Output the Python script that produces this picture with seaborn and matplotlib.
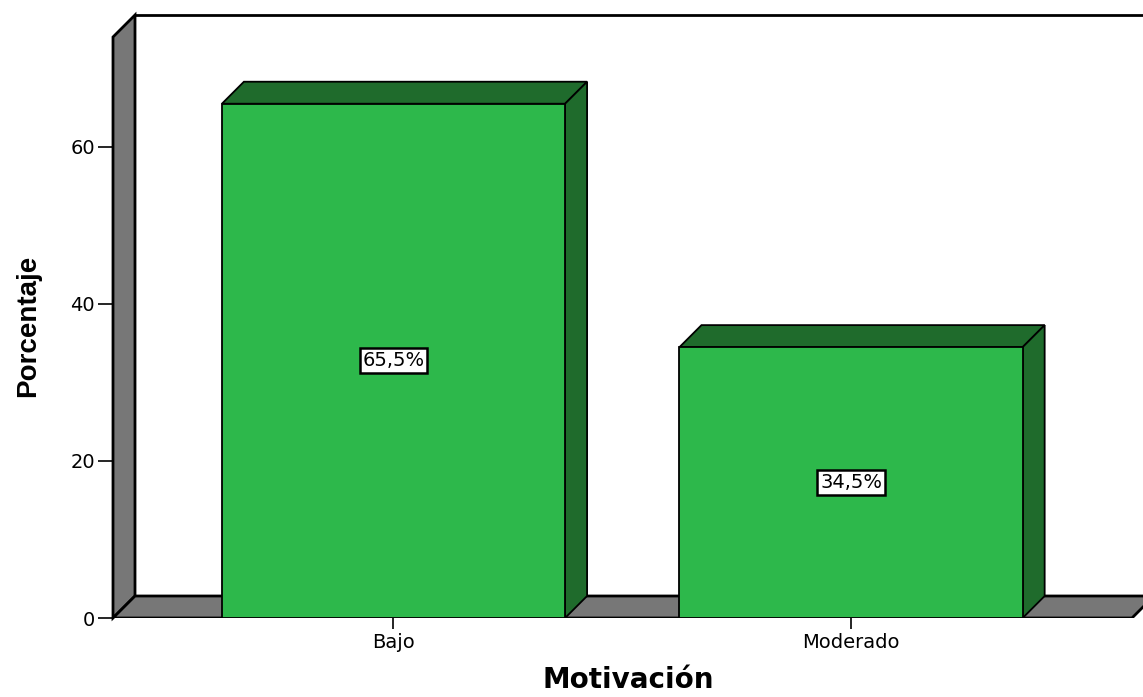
import numpy as np
import pandas as pd
import matplotlib
matplotlib.use("Agg")
import matplotlib.pyplot as plt
from matplotlib.patches import Polygon
import seaborn as sns

# datos
categorias = ["Bajo", "Moderado"]
porcentajes = [65.5, 34.5]
etiquetas = ["65,5%", "34,5%"]
yticks = [0, 20, 40, 60]

df = pd.DataFrame({"Motivación": categorias, "Porcentaje": porcentajes})

sns.set_style("white")
plt.rcParams["font.family"] = ["DejaVu Sans"]
plt.rcParams["text.color"] = "black"
plt.rcParams["axes.labelcolor"] = "black"
plt.rcParams["xtick.color"] = "black"
plt.rcParams["ytick.color"] = "black"

verde = "#2db84b"
verde_osc = "#1f6b2c"
gris = "#777777"

fig = plt.figure(figsize=(11.43, 6.97), dpi=100)
ax = fig.add_axes([113 / 1143, 79 / 697, 1030 / 1143, 603 / 697])

sns.barplot(data=df, x="Motivación", y="Porcentaje", color=verde, width=0.75,
            edgecolor="black", linewidth=1.3, saturation=1, ax=ax, zorder=3)

xmin, xmax = -0.613, 1.638
ymin, ymax = 0, 76.8
ax.set_xlim(xmin, xmax)
ax.set_ylim(ymin, ymax)

# profundidad 3D en pixeles -> datos
prof = 22
dx = prof / 1030 * (xmax - xmin)
dy = prof / 603 * (ymax - ymin)

# pared izquierda y suelo
ax.add_patch(Polygon([(xmin, 0), (xmin, ymax - dy), (xmin + dx, ymax), (xmin + dx, dy)],
                     closed=True, facecolor=gris, edgecolor="black", lw=2, zorder=1, clip_on=False))
ax.add_patch(Polygon([(xmin, 0), (xmax - dx / 2, 0), (xmax + dx / 2, dy), (xmin + dx, dy)],
                     closed=True, facecolor=gris, edgecolor="black", lw=2, zorder=1))
ax.plot([xmin + dx, xmax], [ymax, ymax], color="black", lw=2, zorder=1, clip_on=False)

# caras superior y lateral de las barras
for p, lab in zip(ax.patches[:len(categorias)], etiquetas):
    x0, w, h = p.get_x(), p.get_width(), p.get_height()
    x1 = x0 + w
    ax.add_patch(Polygon([(x0, h), (x0 + dx, h + dy), (x1 + dx, h + dy), (x1, h)],
                         closed=True, facecolor=verde_osc, edgecolor="black", lw=1.3, zorder=2))
    ax.add_patch(Polygon([(x1, 0), (x1 + dx, dy), (x1 + dx, h + dy), (x1, h)],
                         closed=True, facecolor=verde_osc, edgecolor="black", lw=1.3, zorder=2))
    ax.text(x0 + w / 2, h / 2, lab, ha="center", va="center", fontsize=14, zorder=5,
            bbox=dict(boxstyle="square,pad=0.15", facecolor="white", edgecolor="black", lw=1.8))

for s in ax.spines.values():
    s.set_visible(False)

ax.set_yticks(yticks)
ax.tick_params(axis="y", left=True, length=11, width=1.2, pad=2, labelsize=14)
ax.tick_params(axis="x", bottom=True, length=8, width=1.2, pad=3, labelsize=14)

ax.set_xlabel("Motivación", fontsize=20, fontweight="bold", labelpad=10)
ax.set_ylabel("Porcentaje", fontsize=20, fontweight="bold", family=["Liberation Sans"], labelpad=0)
ax.yaxis.set_label_coords(-0.07, 0.485)

fig.savefig("out.png", dpi=100)
